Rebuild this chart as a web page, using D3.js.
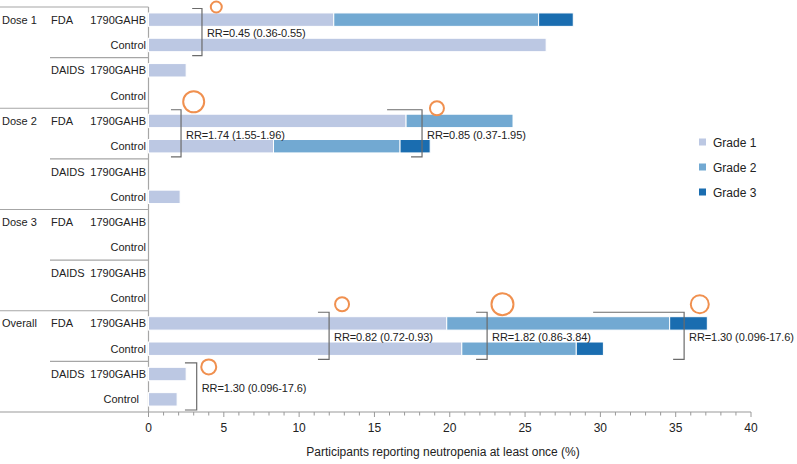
<!DOCTYPE html>
<html><head><meta charset="utf-8">
<script src="https://cdn.jsdelivr.net/npm/d3@7"></script>
<style>
body{margin:0;background:#fff;}
text{font-family:"Liberation Sans",Arial,sans-serif;fill:#222;}
</style></head>
<body><svg id="c" width="797" height="464"></svg>
<script>
// ---- data ----
const doses = ["Dose 1","Dose 2","Dose 3","Overall"];
const sources = ["FDA","DAIDS"];
const groups = ["1790GAHB","Control"];
const grades = ["Grade 1","Grade 2","Grade 3"];
// 16 rows: dose x source x group
const grade1 = [12.3, 26.4, 2.5, 0,   17.1, 8.3, 0, 2.1,   0, 0, 0, 0,   19.8, 20.8, 2.5, 1.9];
const grade2 = [13.6, 0,    0,   0,   7.1,  8.4, 0, 0,     0, 0, 0, 0,   14.8, 7.6,  0,   0];
const grade3 = [2.3,  0,    0,   0,   0,    2.0, 0, 0,     0, 0, 0, 0,   2.5,  1.8,  0,   0];
const xTicks = [0,5,10,15,20,25,30,35,40];
// risk-ratio annotations: rows compared, bracket x (in %), label, marker size
const rrRows  = [[0,1],[4,5],[4,5],[12,13],[12,13],[12,13],[14,15]];
const rrX     = [3.55, 2.16, 18.16, 11.99, 22.48, 35.56, 3.2];
const rrTopFrom = [2.9, 1.49, 15.84, 11.25, 21.75, 29.52, 2.42];
const rrBotFrom = [2.9, 1.49, 17.43, 11.25, 21.75, 34.83, 2.42];
const rrLabels = ["RR=0.45 (0.36-0.55)","RR=1.74 (1.55-1.96)","RR=0.85 (0.37-1.95)",
  "RR=0.82 (0.72-0.93)","RR=1.82 (0.86-3.84)","RR=1.30 (0.096-17.6)","RR=1.30 (0.096-17.6)"];
const rrCircleX = [4.5, 3.0, 19.15, 12.85, 23.5, 36.6, 4.0];
const rrCircleR = [5.5, 10.5, 7, 7, 11, 9, 7.5];

// ---- layout ----
const svg = d3.select("#c");
const colors = ["#bcc8e3","#72a9d2","#1a6db0"];
const x = d3.scaleLinear().domain([0,40]).range([148.5,751]);
const rowIdx = d3.range(16);
const y = d3.scaleBand().domain(rowIdx).range([7,412]).paddingInner(0.47).paddingOuter(0.235);
const step = y.step();
const rowTop = i => 7 + i*step;

const rows = rowIdx.map(i => ({
  i, dose: doses[Math.floor(i/4)], source: sources[Math.floor(i/2)%2], group: groups[i%2],
  vals: [grade1[i], grade2[i], grade3[i]]
}));

// separators
const sepG = svg.append("g").attr("stroke","#a6a6a6").attr("stroke-width",1.2);
sepG.append("line").attr("x1",0).attr("x2",x(0)).attr("y1",rowTop(0)).attr("y2",rowTop(0));
for (let d=0; d<4; d++){
  if (d>0) sepG.append("line").attr("x1",0).attr("x2",x(0)).attr("y1",rowTop(d*4)).attr("y2",rowTop(d*4));
  sepG.append("line").attr("x1",50).attr("x2",x(0)).attr("y1",rowTop(d*4+2)).attr("y2",rowTop(d*4+2));
}
sepG.append("line").attr("x1",x(0)).attr("x2",x(0)).attr("y1",rowTop(0)).attr("y2",rowTop(16));

// bars
const barG = svg.append("g");
rows.forEach(r => {
  let acc = 0;
  r.vals.forEach((v,k) => {
    if (v>0){
      barG.append("rect").attr("x",x(acc)).attr("y",y(r.i)).attr("width",x(acc+v)-x(acc))
        .attr("height",y.bandwidth()).attr("fill",colors[k])
        .attr("stroke","#fff").attr("stroke-width",1);
    }
    acc += v;
  });
});

// row labels
const labG = svg.append("g").style("font-size","11px");
rows.forEach(r => {
  const cy = y(r.i) + y.bandwidth()/2 + 4;
  if (r.i%4===0) labG.append("text").attr("x",2).attr("y",cy).text(r.dose);
  if (r.i%2===0) labG.append("text").attr("x",51).attr("y",cy).text(r.source);
  labG.append("text").attr("x", r.i===15 ? 139 : 146).attr("y",cy).attr("text-anchor","end").text(r.group);
});

// x axis
const axG = svg.append("g").attr("transform",`translate(0,${rowTop(16)})`);
axG.append("line").attr("x1",0).attr("x2",x(40)).attr("y1",0).attr("y2",0).attr("stroke","#999").attr("stroke-width",1.2);
axG.selectAll("line.minor").data(d3.range(0,41)).join("line").attr("class","minor")
  .attr("x1",d=>x(d)).attr("x2",d=>x(d)).attr("y1",0).attr("y2",d=>d%5===0?5:3.5)
  .attr("stroke","#999").attr("stroke-width",1);
axG.selectAll("text.tick").data(xTicks).join("text").attr("class","tick")
  .attr("x",d=>x(d)).attr("y",20).attr("text-anchor","middle").style("font-size","12px").text(d=>d);
svg.append("text").attr("x",443).attr("y",456).attr("text-anchor","middle").style("font-size","12px")
  .text("Participants reporting neutropenia at least once (%)");

// RR annotations
const annG = svg.append("g");
rrRows.forEach((rr,k) => {
  const t = rowTop(rr[0]) + 1.5, b = rowTop(rr[1]+1) - 2;
  const bx = x(rrX[k]);
  annG.append("path").attr("fill","none").attr("stroke","#6b6b6b").attr("stroke-width",1.2)
    .attr("d",`M${x(rrTopFrom[k])},${t}H${bx}V${b}H${x(rrBotFrom[k])}`);
  annG.append("text").attr("x",bx+5).attr("y",rowTop(rr[1])+5)
    .style("font-size","11px").style("letter-spacing","-0.1px").text(rrLabels[k]);
  annG.append("circle").attr("cx",x(rrCircleX[k])).attr("cy",t+ (k===0||k===2? -1.5 : (k===6? 4 : -8)))
    .attr("r",rrCircleR[k]).attr("fill","none").attr("stroke","#f0904f").attr("stroke-width",2);
});

// legend
const legG = svg.append("g").style("font-size","12px");
grades.forEach((g,k) => {
  const ly = 142 + k*25;
  legG.append("rect").attr("x",699).attr("y",ly-3.5).attr("width",7).attr("height",7).attr("fill",colors[k]);
  legG.append("text").attr("x",713).attr("y",ly+4.5).text(g);
});
</script></body></html>
